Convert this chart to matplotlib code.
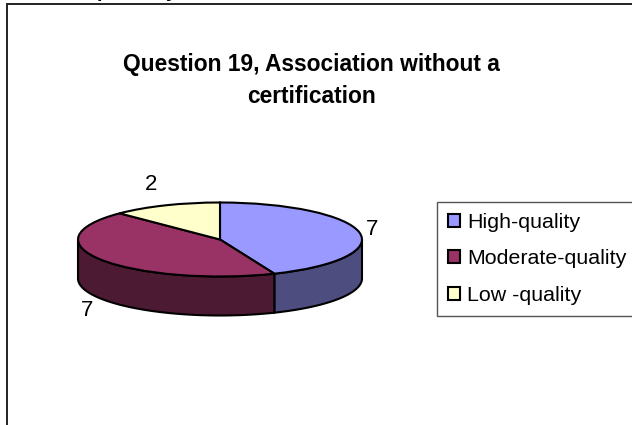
import numpy as np
import matplotlib
matplotlib.use("Agg")
import matplotlib.pyplot as plt
from matplotlib.patches import Rectangle

W, H = 632, 425

labels = ["High-quality", "Moderate-quality", "Low -quality"]
values = [7, 7, 2]
top_colors = ["#9999ff", "#993366", "#ffffcc"]
side_colors = ["#4d4d80", "#4d1a33", "#808066"]

plt.rcParams["font.family"] = ["Liberation Sans", "DejaVu Sans"]


def px_axes(fig, x0, y0, x1, y1):
    # axes box given in image pixels, y going down
    return fig.add_axes([x0 / W, 1 - y1 / H, (x1 - x0) / W, (y1 - y0) / H])


fig = plt.figure(figsize=(W / 100, H / 100), dpi=100, facecolor="white")

# pie is squashed by its axes box, the radius is 1 in both directions
ax = px_axes(fig, 78, 202.5, 362, 276.5)
wedges, _ = ax.pie(values, colors=top_colors, startangle=90, counterclock=False,
                   wedgeprops={"edgecolor": "black", "linewidth": 1.5, "zorder": 3})
ax.set_aspect("auto")
ax.set_xlim(-1, 1)
ax.set_ylim(-1, 1)
depth = 39 / 37

# side wall, front half of the rim only
ends = np.cumsum(values) / sum(values) * 360
starts = np.r_[0, ends[:-1]]
for a0, a1, c in zip(starts, ends, side_colors):
    lo, hi = max(a0, 90), min(a1, 270)
    if lo >= hi:
        continue
    t = np.radians(np.linspace(lo, hi, 80))
    x, y = np.sin(t), np.cos(t)
    ax.fill(np.r_[x, x[::-1]], np.r_[y, y[::-1] - depth], facecolor=c,
            edgecolor="black", linewidth=1.5, zorder=2, clip_on=False)
for w in wedges:
    w.set_clip_on(False)

# page behind the chart
bg = fig.add_axes([0, 0, 1, 1], zorder=-1)
bg.set_xlim(0, W)
bg.set_ylim(H, 0)
bg.axis("off")
bg.add_patch(Rectangle((7, 4), W + 20, H + 20, facecolor="white", edgecolor="#222222", linewidth=1.4))

# line of text from the page above, only the descenders are left
bg.text(103, -2.8, "p", fontsize=14, fontweight="bold", ha="center", va="baseline")
bg.text(171, -2.8, "y", fontsize=14, fontweight="bold", ha="center", va="baseline")

bg.text(311, 64, "Question 19, Association without a", fontsize=16.4, fontweight="bold", ha="center", va="center")
bg.text(311, 96, "certification", fontsize=16.4, fontweight="bold", ha="center", va="center")

bg.text(151, 184, str(values[2]), fontsize=16, ha="center", va="center")
bg.text(372, 229, str(values[0]), fontsize=16, ha="center", va="center")
bg.text(87, 310, str(values[1]), fontsize=16, ha="center", va="center")

# legend
fig.legend(wedges, labels, loc="upper left", bbox_to_anchor=(437 / W, 1 - 202 / H),
           fontsize=15.4, frameon=True, fancybox=False, edgecolor="#555555", framealpha=1,
           handlelength=0.55, handleheight=0.55, handletextpad=0.33, labelspacing=0.81,
           borderpad=0.52, borderaxespad=0)

fig.savefig("out.png", dpi=100)
